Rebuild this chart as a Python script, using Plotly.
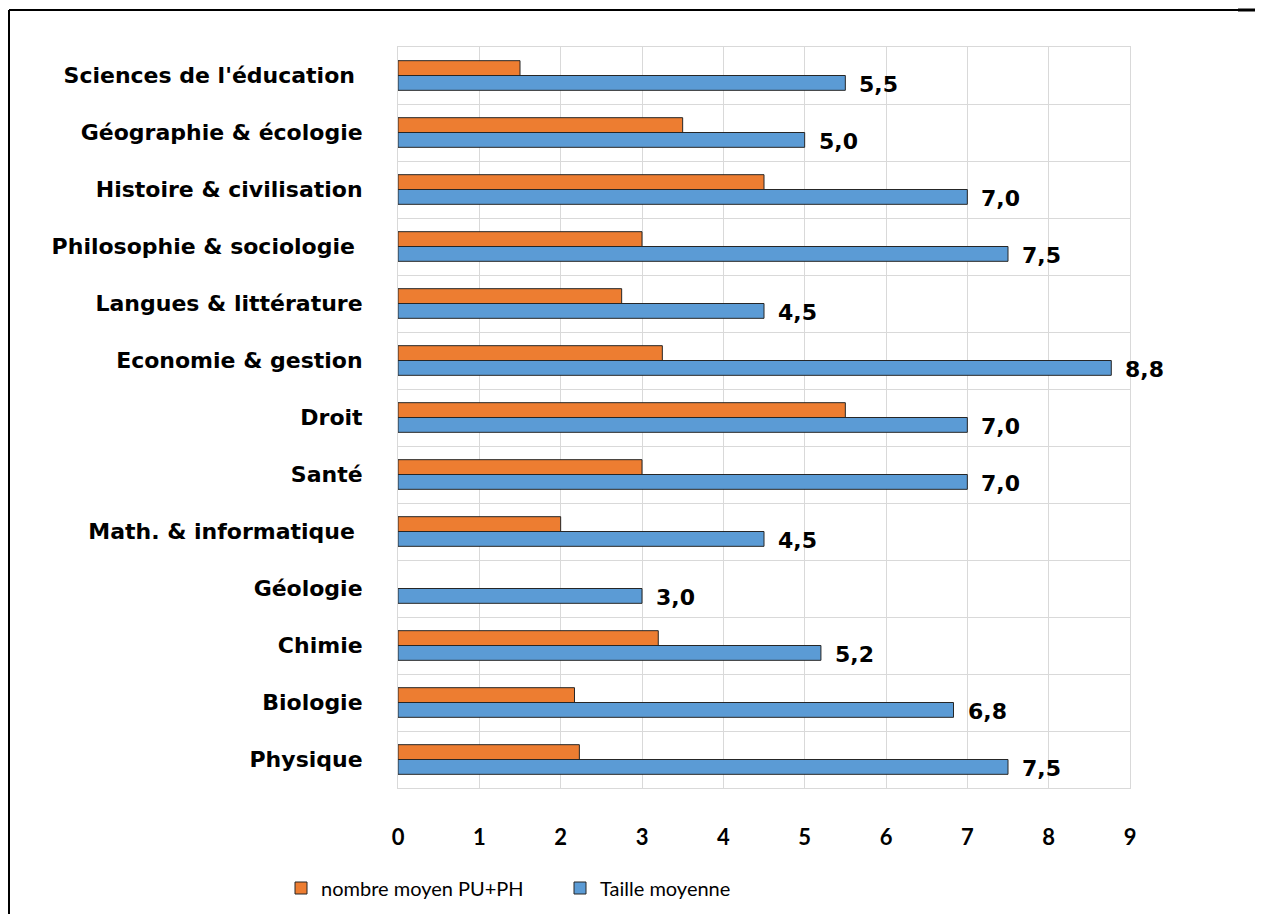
import plotly.graph_objects as go

categories = [
    "Sciences de l'éducation ",
    "Géographie & écologie",
    "Histoire & civilisation",
    "Philosophie & sociologie ",
    "Langues & littérature",
    "Economie & gestion",
    "Droit",
    "Santé",
    "Math. & informatique ",
    "Géologie",
    "Chimie",
    "Biologie",
    "Physique",
]
pu_ph = [1.5, 3.5, 4.5, 3.0, 2.75, 3.25, 5.5, 3.0, 2.0, None, 3.2, 2.17, 2.23]
taille = [5.5, 5.0, 7.0, 7.5, 4.5, 8.77, 7.0, 7.0, 4.5, 3.0, 5.2, 6.83, 7.5]
x_ticks = [0, 1, 2, 3, 4, 5, 6, 7, 8, 9]

ORANGE = "#ED7D31"
BLUE = "#5B9BD5"
LABEL_FONT = "DejaVu Sans"
FONT = "Lato"

# page offset from the html body margin
OFF = 8
FW, FH = 1263 - OFF, 914 - OFF

fig = go.Figure()
fig.add_trace(go.Bar(
    y=categories, x=pu_ph, orientation="h", name="nombre moyen PU+PH",
    marker=dict(color=ORANGE, line=dict(color="#262626", width=1)),
))
fig.add_trace(go.Bar(
    y=categories, x=taille, orientation="h", name="Taille moyenne",
    marker=dict(color=BLUE, line=dict(color="#262626", width=1)),
))

for c, v in zip(categories, taille):
    fig.add_annotation(
        x=v, y=c, xref="x", yref="y", text=f"{v:.1f}".replace(".", ","),
        showarrow=False, xanchor="left", yanchor="middle", xshift=12, yshift=-9,
        font=dict(family=LABEL_FONT, size=22, color="black", weight="bold"),
    )

# plot area in page pixels
W0, W1 = 398 - OFF, 1130 - OFF
H0, H1 = 47 - OFF, 788 - OFF
def px(x):
    return (x - OFF - W0) / (W1 - W0)
def py(y):
    return (H1 - (y - OFF)) / (H1 - H0)

fig.add_shape(type="line", xref="paper", yref="paper", x0=px(9), x1=px(1240), y0=py(10), y1=py(10),
              line=dict(color="black", width=2))
fig.add_shape(type="line", xref="paper", yref="paper", x0=px(1238), x1=px(1263), y0=py(10), y1=py(10),
              line=dict(color="black", width=3))
fig.add_shape(type="line", xref="paper", yref="paper", x0=px(9), x1=px(9), y0=py(10), y1=py(914),
              line=dict(color="black", width=2))

fig.update_layout(
    width=FW, height=FH,
    margin=dict(l=W0, r=FW - W1, t=H0, b=FH - H1, autoexpand=False),
    paper_bgcolor="white", plot_bgcolor="white",
    barmode="group", bargap=0.48, bargroupgap=0,
    showlegend=True,
    legend=dict(orientation="h", x=px(281), xanchor="left", y=py(888), yanchor="middle",
                font=dict(family=FONT, size=20, color="black"), itemwidth=30,
                entrywidth=234, traceorder="normal"),
    xaxis=dict(range=[0, 9], tickvals=x_ticks, ticktext=[str(t) for t in x_ticks],
               showgrid=True, gridcolor="#d9d9d9", gridwidth=1, zeroline=False,
               showline=True, linecolor="#d9d9d9", mirror=True,
               ticks="", ticklabelstandoff=30,
               tickfont=dict(family=FONT, size=22, color="black", weight="bold")),
    yaxis=dict(autorange="reversed", type="category", tickson="boundaries",
               showgrid=True, gridcolor="#d9d9d9", gridwidth=1,
               showline=True, linecolor="#d9d9d9", mirror=True,
               ticks="", ticklabelstandoff=30,
               tickfont=dict(family=LABEL_FONT, size=22, color="black", weight="bold")),
)

fig.write_html("out.html")
